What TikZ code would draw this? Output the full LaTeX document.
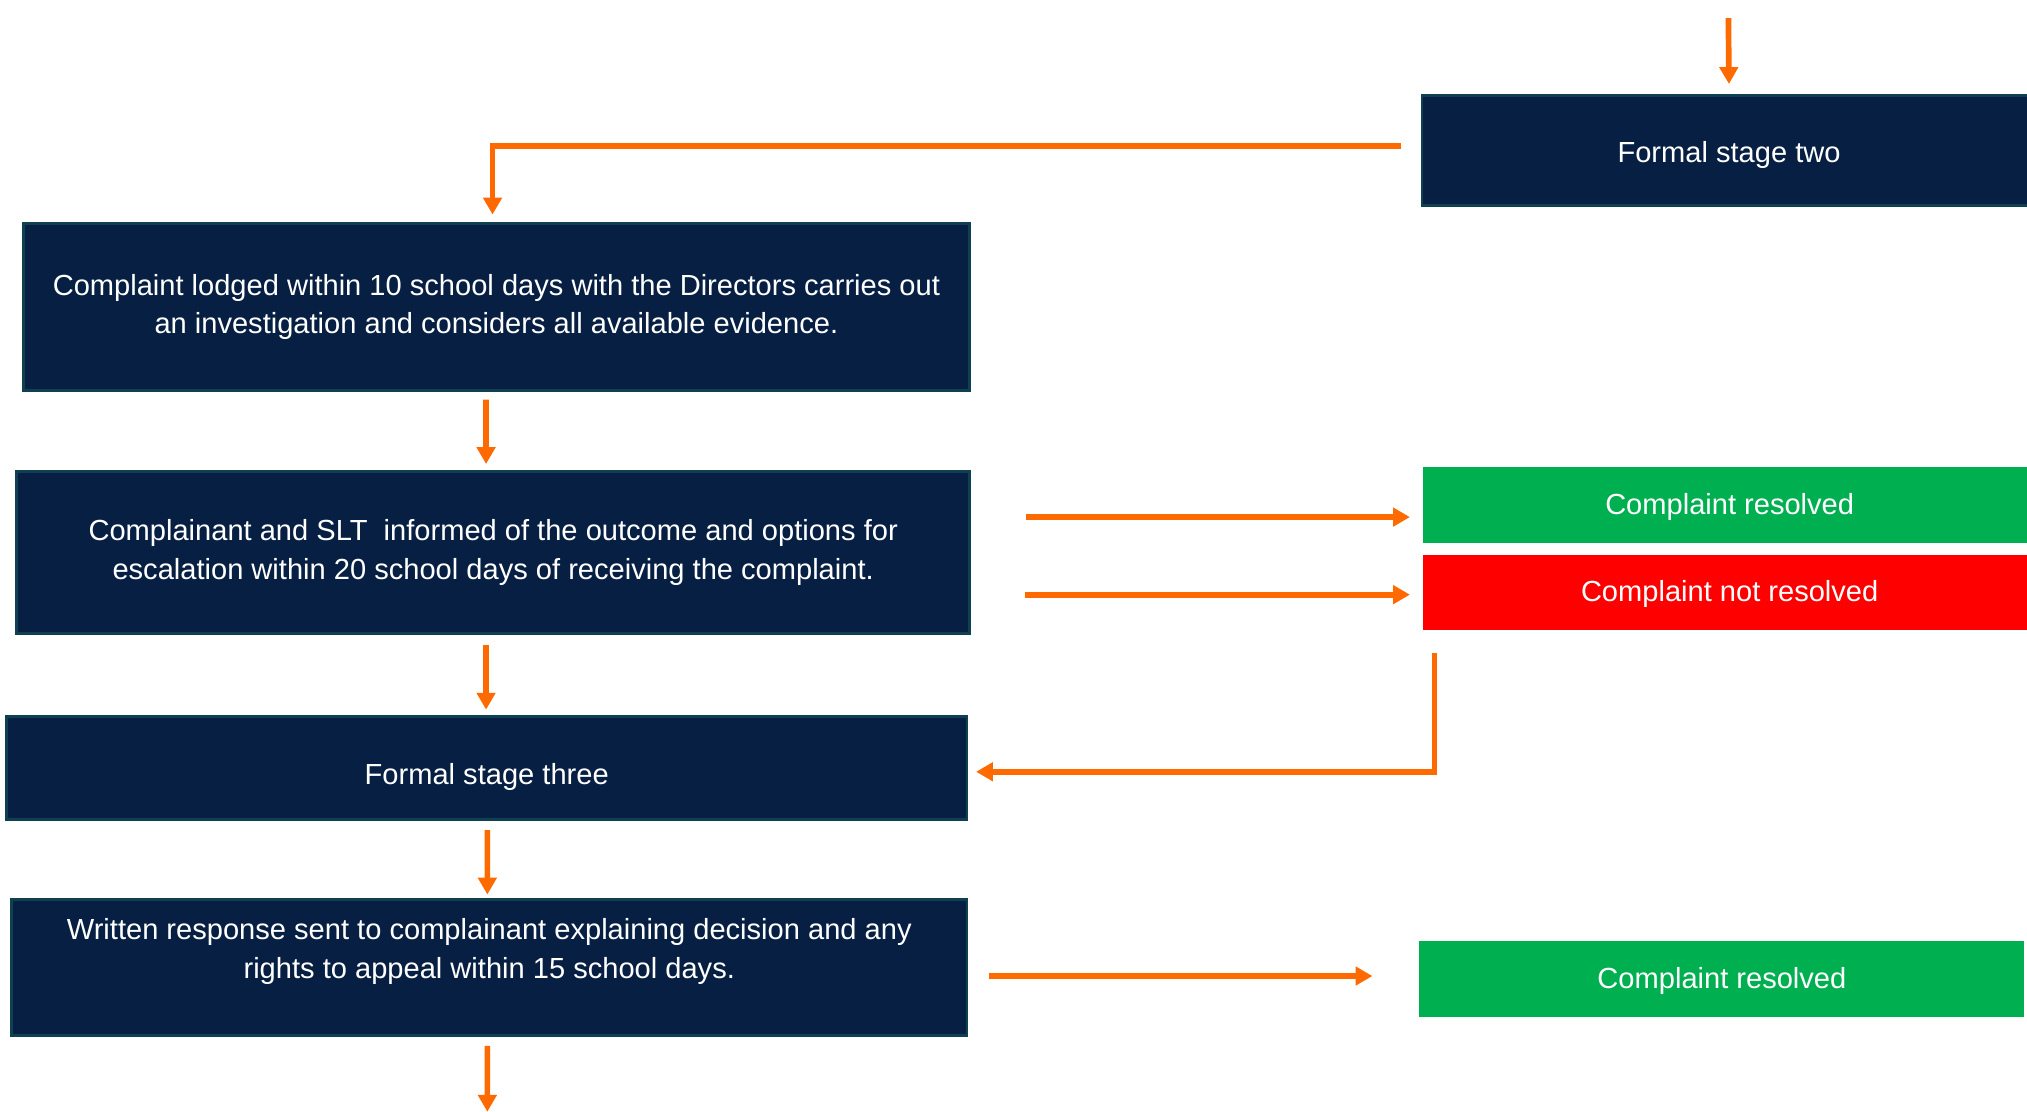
\documentclass[tikz,border=0pt]{standalone}
\usepackage{fontspec}
\setmainfont{Liberation Sans}
\usetikzlibrary{arrows,arrows.meta,shapes,positioning,calc}
\definecolor{navy}{RGB}{6,31,66}
\definecolor{tealedge}{RGB}{14,64,82}
\definecolor{flowor}{RGB}{255,106,0}
\definecolor{okgreen}{RGB}{0,176,80}
\definecolor{nogred}{RGB}{255,0,0}

\begin{document}
\begin{tikzpicture}[
		stagebox/.style={draw=tealedge, line width=1.2pt, fill=navy, text=white, align=center,
			font=\fontsize{12.8}{17}\selectfont, inner sep=0pt},
		resultbox/.style={fill=#1, text=white, minimum width=9.48cm, minimum height=1.18cm,
			font=\fontsize{12.8}{17}\selectfont, inner sep=0pt, text height=0.39cm},
		flow/.style={draw=flowor, line width=2.5pt, -{Triangle[length=0.26cm,width=0.28cm]}}
	]
			\useasboundingbox (0,0) rectangle (31.36,-17.2);
			\clip (0,0) rectangle (31.36,-17.2);
			
			% Formal stage two
			\node[stagebox, minimum width=9.5cm, minimum height=1.7cm, text height=0.45cm] (two) at (26.75,-2.33) {Formal stage two};
			\coordinate (top) at (26.74,-0.28);
			\draw[flow, shorten >=0.16cm] (top) -- (two.north);
			
			% Investigation by the Directors
			\node[stagebox, minimum width=14.64cm, minimum height=2.58cm] (lodged) at (7.68,-4.75)
				{Complaint lodged within 10 school days with the Directors carries out\\
				 an investigation and considers all available evidence.};
			\draw[flow, shorten >=0.12cm] ([xshift=-0.3cm,yshift=0.07cm]two.west) -| ([xshift=-0.06cm]lodged.north);
			
			% Outcome
			\node[stagebox, minimum width=14.74cm, minimum height=2.5cm] (outcome) at (7.63,-8.55)
				{Complainant and SLT\ \ informed of the outcome and options for\\
				 escalation within 20 school days of receiving the complaint.};
			\draw[flow, shorten <=0.12cm, shorten >=0.1cm] ([xshift=-0.16cm]lodged.south) -- ([xshift=-0.11cm]outcome.north);
			
			% Resolved / not resolved
			\node[resultbox=okgreen] (resolvedA) at (26.76,-7.81) {Complaint resolved};
			\node[resultbox=nogred, minimum height=1.16cm] (notresolved) at (26.76,-9.16) {Complaint not resolved};
			\draw[flow] ([xshift=-6.14cm,yshift=-0.19cm]resolvedA.west) -- ([xshift=-0.2cm,yshift=-0.19cm]resolvedA.west);
			\draw[flow] ([xshift=-6.16cm,yshift=-0.04cm]notresolved.west) -- ([xshift=-0.2cm,yshift=-0.04cm]notresolved.west);
			
			% Formal stage three
			\node[stagebox, minimum width=14.86cm, minimum height=1.6cm, text height=0.61cm] (three) at (7.53,-11.88) {Formal stage three};
			\draw[flow, shorten <=0.16cm, shorten >=0.08cm] ([xshift=-0.11cm]outcome.south) -- ([xshift=-0.01cm]three.north);
			\draw[flow, shorten >=0.12cm] ([xshift=0.18cm,yshift=-0.36cm]notresolved.south west) |- ([yshift=-0.06cm]three.east);
			
			% Written response
			\node[stagebox, minimum width=14.78cm, minimum height=2.1cm] (response) at (7.57,-14.97)
				{\raisebox{0.14cm}[0pt][0pt]{\parbox{14.5cm}{\centering
				 Written response sent to complainant explaining decision and any\\
				 rights to appeal within 15 school days.}}};
			\draw[flow, shorten <=0.14cm, shorten >=0.06cm] ([xshift=0.01cm]three.south) -- ([xshift=-0.03cm]response.north);
			
			% Resolved after stage three
			\node[resultbox=okgreen, minimum width=9.36cm] (resolvedB) at (26.64,-15.15) {Complaint resolved};
			\draw[flow] ([xshift=0.32cm,yshift=-0.13cm]response.east) -- ([xshift=-0.72cm,yshift=0.05cm]resolvedB.west);
			
			% Onwards
			\coordinate (bottom) at (7.54,-17.2);
			\draw[flow, shorten <=0.14cm] ([xshift=-0.03cm]response.south) -- (bottom);
		\end{tikzpicture}
\end{document}
